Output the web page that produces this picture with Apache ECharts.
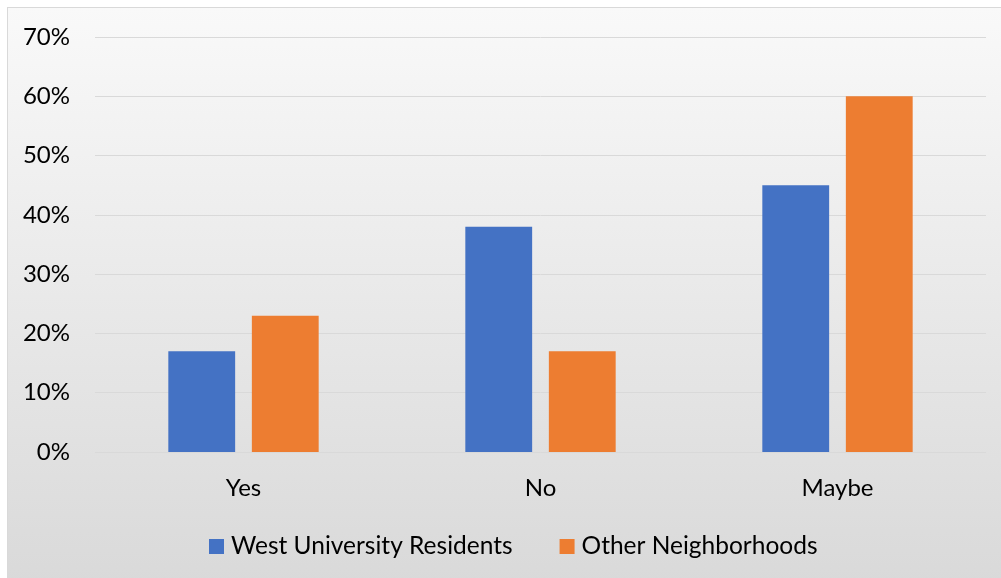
<!DOCTYPE html>
<html>
<head>
<meta charset="utf-8">
<script src="https://cdn.jsdelivr.net/npm/echarts@6/dist/echarts.min.js"></script>
<style>
  html, body { margin: 0; padding: 0; background: #fff; }
  #frame {
    position: absolute; left: 7px; top: 7px; width: 1000px; height: 580px;
    border: 1px solid #d9d9d9; box-sizing: border-box;
    background: linear-gradient(to bottom, #f9f9f9 0%, #d9d9d9 100%);
  }
  #chart { position: absolute; left: 0; top: 0; width: 1001px; height: 578px; }
</style>
</head>
<body>
<div id="frame"></div>
<div id="chart"></div>
<script>
// Survey responses by group, in percent
const categories = ['Yes', 'No', 'Maybe'];
const westUniversity = [17, 38, 45];
const otherNeighborhoods = [23, 17, 60];
const seriesNames = ['West University Residents', 'Other Neighborhoods'];

const font = 'Lato, "Open Sans", sans-serif';
const chart = echarts.init(document.getElementById('chart'));
chart.setOption({
  backgroundColor: 'transparent',
  animation: false,
  grid: { left: 95, right: 15, top: 37, bottom: 126 },
  legend: {
    left: 204, top: 529,
    itemWidth: 15, itemHeight: 15, itemGap: 47,
    icon: 'rect',
    textStyle: { fontFamily: font, fontSize: 24.5, color: '#000', padding: [0, 0, 0, 2] },
    data: seriesNames
  },
  xAxis: {
    type: 'category',
    data: categories,
    axisLine: { show: false },
    axisTick: { show: false },
    axisLabel: { fontFamily: font, fontSize: 24, color: '#000', margin: 24 }
  },
  yAxis: {
    type: 'value',
    min: 0, max: 70, interval: 10,
    axisLine: { show: false },
    axisTick: { show: false },
    axisLabel: { fontFamily: font, fontSize: 24, color: '#000', margin: 25, formatter: '{value}%' },
    splitLine: { lineStyle: { color: '#d9d9d9', width: 1 } }
  },
  series: [
    {
      name: seriesNames[0], type: 'bar', data: westUniversity,
      barWidth: '22.5%', barGap: '25%',
      itemStyle: { color: '#4472c4' }
    },
    {
      name: seriesNames[1], type: 'bar', data: otherNeighborhoods,
      barWidth: '22.5%', barGap: '25%',
      itemStyle: { color: '#ed7d31' }
    }
  ]
});
</script>
</body>
</html>
